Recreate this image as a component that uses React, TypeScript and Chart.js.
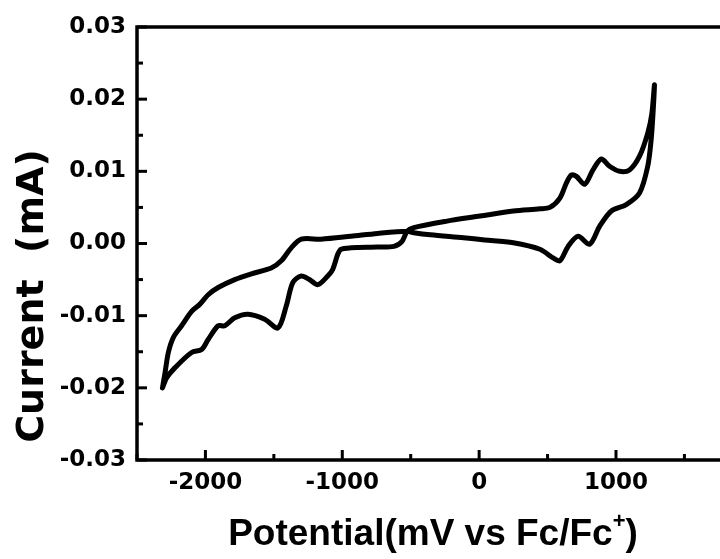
import React, { useEffect, useRef } from "react";
import { Chart, registerables } from "chart.js";

Chart.register(...registerables);

// Cyclic voltammogram branches: potential (mV vs Fc/Fc+) and current (mA)
// Branch 1: upper-left branch, from the negative vertex to the crossing point
const branch1Potential = [-2314, -2295, -2271, -2234, -2174, -2101, -2040, -1980, -1907, -1786, -1664, -1519, -1446, -1373, -1300, -1155, -937, -742, -526];
const branch1Current = [-0.0200, -0.0179, -0.0151, -0.0130, -0.0114, -0.0094, -0.0084, -0.0071, -0.0061, -0.0050, -0.0042, -0.0034, -0.0024, -0.0006, 0.0006, 0.0006, 0.0010, 0.0014, 0.0017];

// Branch 2: lower-right branch, from the crossing point to the positive vertex
const branch2Potential = [-478, -357, -114, 40, 250, 444, 541, 590, 650, 723, 808, 881, 966, 1075, 1172, 1232, 1257, 1272, 1281];
const branch2Current = [0.0015, 0.0012, 0.0008, 0.0005, 0.0001, -0.0008, -0.0020, -0.0024, -0.0004, 0.0010, -0.0001, 0.0024, 0.0045, 0.0054, 0.0070, 0.0107, 0.0144, 0.0185, 0.0220];

// Branch 3: upper-right branch, from the positive vertex back to the crossing point
const branch3Potential = [1262, 1232, 1172, 1099, 1026, 953, 893, 832, 771, 711, 675, 638, 590, 517, 444, 250, 7, -235, -478, -526];
const branch3Current = [0.0180, 0.0153, 0.0121, 0.0102, 0.0100, 0.0107, 0.0117, 0.0102, 0.0082, 0.0093, 0.0095, 0.0084, 0.0063, 0.0050, 0.0048, 0.0045, 0.0038, 0.0031, 0.0022, 0.0017];

// Branch 4: lower-left branch, from the crossing point to the negative vertex
const branch4Potential = [-563, -623, -742, -937, -1009, -1033, -1070, -1106, -1179, -1240, -1300, -1361, -1410, -1470, -1567, -1689, -1786, -1858, -1907, -1980, -2028, -2101, -2222, -2283, -2314];
const branch4Current = [0.0003, -0.0004, -0.0005, -0.0006, -0.0008, -0.0015, -0.0036, -0.0045, -0.0057, -0.0050, -0.0045, -0.0054, -0.0087, -0.0117, -0.0105, -0.0098, -0.0103, -0.0114, -0.0114, -0.0133, -0.0147, -0.0151, -0.0172, -0.0186, -0.0200];

// Axis ticks (all tick marks; labelled ones are listed separately)
const xTickPositions = [-2500, -2000, -1500, -1000, -500, 0, 500, 1000, 1500];
const xTickValues = [-2000, -1000, 0, 1000];
const xTickLabels = ["-2000", "-1000", "0", "1000"];
const yTickPositions = [-0.03, -0.025, -0.02, -0.015, -0.01, -0.005, 0, 0.005, 0.01, 0.015, 0.02, 0.025, 0.03];
const yTickValues = [-0.03, -0.02, -0.01, 0, 0.01, 0.02, 0.03];
const yTickLabels = ["-0.03", "-0.02", "-0.01", "0.00", "0.01", "0.02", "0.03"];

// Axis titles
const xTitleMain = "Potential(mV vs Fc/Fc";
const xTitleSup = "+";
const xTitleEnd = ")";
const yTitle = "Current  (mA)";

const ARIAL = "'Liberation Sans', Arial, Helvetica, sans-serif";
const WIDE = "'DejaVu Sans', Verdana, sans-serif";

function findLabel(values: number[], labels: string[], v: number): string {
  for (let i = 0; i < values.length; i++) {
    if (Math.abs(values[i] - v) < 1e-9 * Math.max(1, Math.abs(values[i]))) return labels[i];
  }
  return "";
}

function isMajor(values: number[], v: number): boolean {
  return values.some((t) => Math.abs(t - v) < 1e-9 * Math.max(1, Math.abs(t)));
}

const framePlugin = {
  id: "frameAndTicks",
  afterDatasetsDraw(chart: any) {
    const { ctx, chartArea, scales } = chart;
    const { left, right, top, bottom } = chartArea;
    ctx.save();
    ctx.strokeStyle = "#000";
    ctx.lineCap = "butt";
    // inward tick marks
    ctx.lineWidth = 3;
    const xs = scales.x;
    xs.ticks.forEach((t: any) => {
      const px = xs.getPixelForValue(t.value);
      const len = isMajor(xTickValues, t.value) ? 10 : 6;
      ctx.beginPath();
      ctx.moveTo(px, bottom);
      ctx.lineTo(px, bottom - len);
      ctx.stroke();
    });
    const ys = scales.y;
    ys.ticks.forEach((t: any) => {
      const py = ys.getPixelForValue(t.value);
      const len = isMajor(yTickValues, t.value) ? 10 : 6;
      ctx.beginPath();
      ctx.moveTo(left, py);
      ctx.lineTo(left + len, py);
      ctx.stroke();
    });
    // frame: left, bottom, top (right side is cropped)
    ctx.lineWidth = 3.5;
    ctx.beginPath();
    ctx.moveTo(right + 4, top);
    ctx.lineTo(left, top);
    ctx.lineTo(left, bottom);
    ctx.lineTo(right + 4, bottom);
    ctx.stroke();
    ctx.restore();
  },
  afterDraw(chart: any) {
    const { ctx } = chart;
    ctx.save();
    ctx.fillStyle = "#000";
    // x title with superscript
    const mainFont = `bold 37px ${ARIAL}`;
    const supFont = `bold 22px ${ARIAL}`;
    ctx.font = mainFont;
    const w1 = ctx.measureText(xTitleMain).width;
    const w3 = ctx.measureText(xTitleEnd).width;
    ctx.font = supFont;
    const w2 = ctx.measureText(xTitleSup).width;
    const total = w1 + w2 + w3;
    const x0 = 433 - total / 2;
    const baseY = 545;
    ctx.textBaseline = "alphabetic";
    ctx.textAlign = "left";
    ctx.font = mainFont;
    ctx.fillText(xTitleMain, x0, baseY);
    ctx.font = supFont;
    ctx.fillText(xTitleSup, x0 + w1, baseY - 17);
    ctx.font = mainFont;
    ctx.fillText(xTitleEnd, x0 + w1 + w2, baseY);
    // y title
    ctx.translate(43, 296);
    ctx.rotate(-Math.PI / 2);
    ctx.textAlign = "center";
    ctx.font = `bold 38px ${WIDE}`;
    ctx.fillText(yTitle, 0, 0);
    ctx.restore();
  },
};

export default function App() {
  const canvasRef = useRef<HTMLCanvasElement | null>(null);

  useEffect(() => {
    if (!canvasRef.current) return;
    const pts: { x: number; y: number }[] = [];
    const add = (xs: number[], ys: number[]) => xs.forEach((x, i) => pts.push({ x, y: ys[i] }));
    add(branch1Potential, branch1Current);
    add(branch2Potential, branch2Current);
    add(branch3Potential, branch3Current);
    add(branch4Potential, branch4Current);

    const chart = new Chart(canvasRef.current, {
      type: "scatter",
      data: {
        datasets: [
          {
            data: pts,
            showLine: true,
            borderColor: "#000",
            backgroundColor: "#000",
            borderWidth: 5,
            pointRadius: 0,
            tension: 0.3,
            borderJoinStyle: "round",
            borderCapStyle: "round",
            fill: false,
          } as any,
        ],
      },
      options: {
        animation: false,
        responsive: true,
        maintainAspectRatio: false,
        layout: { padding: { top: 27, right: 0, left: 0, bottom: 0 } },
        plugins: { legend: { display: false }, tooltip: { enabled: false } },
        scales: {
          x: {
            type: "linear",
            position: "bottom",
            min: -2500,
            max: 1760,
            grid: { display: false, drawTicks: false },
            border: { display: false },
            afterBuildTicks: (s: any) => {
              s.ticks = xTickPositions.map((v) => ({ value: v }));
            },
            ticks: {
              autoSkip: false,
              maxRotation: 0,
              padding: 9,
              color: "#000",
              font: { family: WIDE, size: 23, weight: "bold" },
              callback: (v: any) => findLabel(xTickValues, xTickLabels, Number(v)),
            },
            afterFit: (s: any) => {
              s.height = 99;
            },
          },
          y: {
            type: "linear",
            min: -0.03,
            max: 0.03,
            grid: { display: false, drawTicks: false },
            border: { display: false },
            afterBuildTicks: (s: any) => {
              s.ticks = yTickPositions.map((v) => ({ value: v }));
            },
            ticks: {
              autoSkip: false,
              padding: 11,
              color: "#000",
              font: { family: WIDE, size: 23, weight: "bold" },
              callback: (v: any) => findLabel(yTickValues, yTickLabels, Number(v)),
            },
            afterFit: (s: any) => {
              s.width = 137;
            },
          },
        },
      },
      plugins: [framePlugin],
    });
    return () => chart.destroy();
  }, []);

  return (
    <div style={{ position: "fixed", left: 0, top: 0, width: 720, height: 559, background: "#fff" }}>
      <canvas ref={canvasRef} />
    </div>
  );
}
